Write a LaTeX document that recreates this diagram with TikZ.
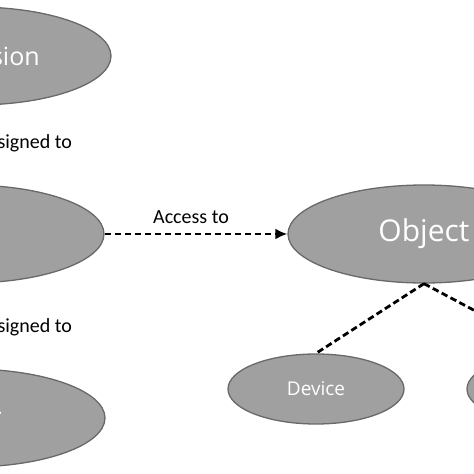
\documentclass[tikz,border=0pt]{standalone}
\usepackage{fontspec}
\setmainfont{Open Sans}
\newfontfamily\labfont{Carlito}
\usetikzlibrary{shapes.geometric,arrows.meta}
\definecolor{ellfill}{RGB}{160,160,160}
\definecolor{elldraw}{RGB}{105,105,105}
\tikzset{
  bigell/.style={ellipse, draw=elldraw, line width=1.3pt, fill=ellfill, text=white,
    minimum width=272pt, minimum height=98pt, inner sep=0pt},
  smallell/.style={ellipse, draw=elldraw, line width=1.3pt, fill=ellfill, text=white,
    minimum width=176pt, minimum height=70pt, inner sep=0pt, font=\fontsize{19}{22}\selectfont},
  lab/.style={font=\labfont\fontsize{20}{24}\selectfont, inner sep=0pt, text=black},
  dashline/.style={dash pattern=on 6.5pt off 3.5pt, line width=2.8pt},
}
\begin{document}
\begin{tikzpicture}[x=1pt,y=-1pt]
\useasboundingbox (0,0) rectangle (474,474);
\clip (0,0) rectangle (474,474);
\fill[white] (0,0) rectangle (474,474);
\node[bigell, font=\fontsize{25}{30}\selectfont] (perm) at (-25,56) {Permission};
\node[lab] (asg1) at (25,143) {Assigned to};
\node[bigell, font=\fontsize{30}{36}\selectfont] (role) at (-32,234) {Role};
\node[lab] (asg2) at (25,327) {Assigned to};
\node[bigell, font=\fontsize{30}{36}\selectfont] (user) at (-31,418) {User};
\node[bigell, font=\fontsize{30}{36}\selectfont] (obj) at (424,234) {Object};
\node[smallell] (dev) at (316,389) {Device};
\node[smallell] (oth) at (555,389) {};
\draw[dashline, -{Latex[length=12pt,width=11pt]}] (role.east) -- node[lab, above=9pt, xshift=-5pt] (acc) {Access to} (obj.west);
\draw[dashline] (obj.south) -- (dev.north);
\draw[dashline] (obj.south) -- (oth.north);
\end{tikzpicture}
\end{document}
